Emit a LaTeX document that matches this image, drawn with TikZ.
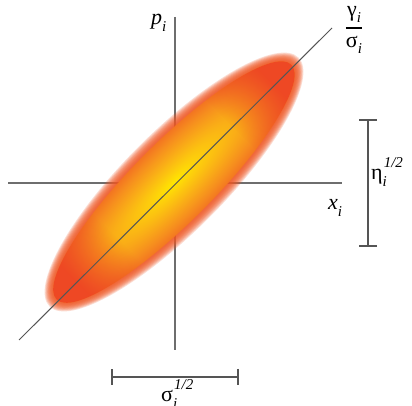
\documentclass[tikz,border=0pt]{standalone}
\usepackage{fontspec}
\setmainfont{Liberation Serif}
\usetikzlibrary{arrows.meta,fadings}
\definecolor{gc0}{RGB}{255,230,0}
\definecolor{gc1}{RGB}{253,206,12}
\definecolor{gc2}{RGB}{250,176,22}
\definecolor{gc3}{RGB}{246,142,30}
\definecolor{gc4}{RGB}{243,118,33}
\definecolor{glowred}{RGB}{238,72,36}
\definecolor{blurred}{RGB}{240,88,36}
\definecolor{axgray}{RGB}{110,110,110}
\definecolor{bargray}{RGB}{85,85,85}
\pgfdeclareradialshading{glowshade}{\pgfpoint{0bp}{0bp}}{color(0bp)=(gc0); color(5bp)=(gc1); color(12bp)=(gc2); color(20bp)=(gc3); color(25bp)=(gc4); color(50bp)=(gc4)}
\pgfdeclarehorizontalshading{tipmask}{100bp}{color(0bp)=(white); color(29bp)=(white); color(38bp)=(black); color(62bp)=(black); color(71bp)=(white); color(100bp)=(white)}
\pgfdeclarefading{tipfade}{\pgfuseshading{tipmask}}
\newcommand\sbi{\raisebox{-0.28em}{\fontsize{15}{15}\selectfont\itshape i}}
\newcommand\sph{\raisebox{0.55em}{\fontsize{15}{15}\selectfont\itshape 1/2}}
\begin{document}
\begin{tikzpicture}[x=1pt,y=1pt,
  axisline/.style={draw=axgray, line width=1.2pt},
  diagline/.style={draw=bargray, line width=1pt},
  barline/.style={draw=bargray, line width=2pt},
  lbl/.style={inner sep=0pt, font=\fontsize{22}{26}\selectfont}]
\useasboundingbox (0,0) rectangle (412,406);
\fill[white] (0,0) rectangle (412,406);
% axes
\coordinate (vtop) at (175,389);
\coordinate (vbot) at (175,56);
\coordinate (hleft) at (8,223);
\coordinate (hright) at (342,223);
\draw[axisline] (vtop) -- (vbot);
\draw[axisline] (hleft) -- (hright);
% glowing ellipse
\begin{scope}[transform canvas={shift={(174,224)}, rotate=45}]
  \foreach \d in {10,...,1}
    \fill[blurred, opacity=0.2] (0,0) ellipse [x radius=166+\d, y radius=40+\d];
  \shade[shading=glowshade] (0,0) ellipse [x radius=166, y radius=40];
  \fill[glowred, path fading=tipfade] (0,0) ellipse [x radius=166, y radius=40];
\end{scope}
% diagonal
\coordinate (dlow) at (19,66);
\coordinate (dhigh) at (332,378);
\draw[diagline] (dlow) -- (dhigh);
% labels
\node[lbl, anchor=base west] (pi) at (151,381) {\textit{p}\sbi};
\node[lbl, anchor=base west] (xi) at (328,196) {\textit{x}\sbi};
\node[lbl] (frac) at (354,376) {$\displaystyle{\mbox{γ\sbi}\above 1.5pt\mbox{σ\sbi}}$};
% bars
\coordinate (rt) at (368,287);
\coordinate (rb) at (368,159);
\draw[barline, {Bar[width=18pt]}-{Bar[width=18pt]}] (rt) -- (rb);
\node[lbl, anchor=base west] (eta) at (371,226) {η\rlap{\sbi}\kern0.05em\sph};
\coordinate (bl) at (111,29);
\coordinate (br) at (239,29);
\draw[barline, {Bar[width=16pt]}-{Bar[width=16pt]}] (bl) -- (br);
\node[lbl, anchor=base west] (sig) at (161,4) {σ\rlap{\sbi}\kern0.05em\sph};
\end{tikzpicture}
\end{document}
